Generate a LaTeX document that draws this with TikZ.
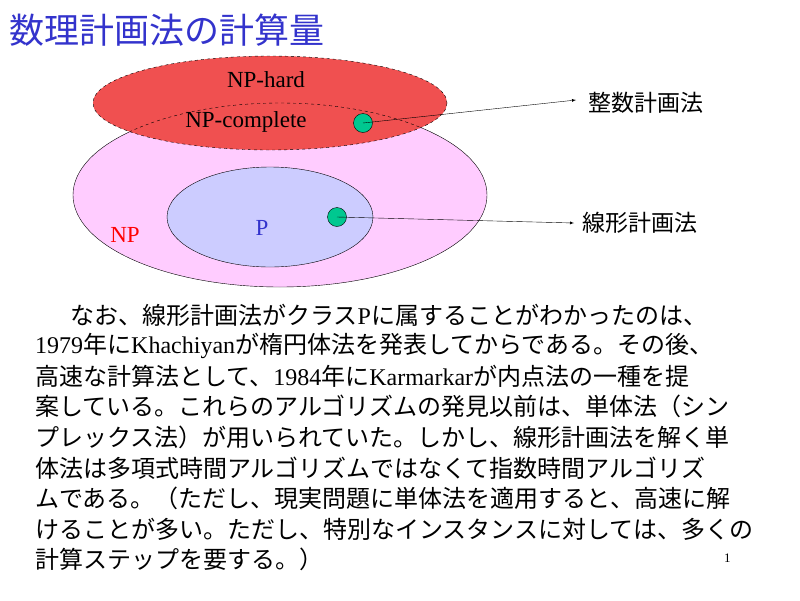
\documentclass[tikz,border=0pt]{standalone}
\usepackage{fontspec}
\setmainfont{Liberation Serif}
\newfontfamily\jp{Noto Sans CJK JP}
\definecolor{npink}{HTML}{FFCCFF}
\definecolor{pblue}{HTML}{CCCCFF}
\definecolor{hred}{HTML}{F05050}
\definecolor{dotg}{HTML}{00C890}
\definecolor{ttl}{HTML}{3333CC}
\tikzset{dotn/.style={circle,draw,fill=dotg,minimum size=19pt,inner sep=0pt},
 txt/.style={anchor=west,inner sep=0pt,font=\fontsize{24}{26}\selectfont}}
\begin{document}
\begin{tikzpicture}[x=1pt,y=-1pt]
\useasboundingbox (0,0) rectangle (800,600);
\node[anchor=west,inner sep=0pt,text=ttl,font=\jp\fontsize{35}{38}\selectfont] (title) at (9,30) {数理計画法の計算量};
\draw[fill=npink] (280,195) ellipse [x radius=207,y radius=92];
\draw[fill=pblue] (270,217) ellipse [x radius=103,y radius=50];
\draw[dashed,fill=hred] (270,103) ellipse [x radius=177,y radius=47];
\begin{scope}
\clip (270,103) ellipse [x radius=177,y radius=47];
\draw[dashed] (280,195) ellipse [x radius=207,y radius=92];
\end{scope}
\node[font=\fontsize{23}{26}\selectfont] (hard) at (266,80) {NP-hard};
\node[font=\fontsize{23}{26}\selectfont] (comp) at (246,122) {NP-complete};
\node[text=red,font=\fontsize{23}{26}\selectfont] (np) at (125,235) {NP};
\node[text=ttl,font=\fontsize{23}{26}\selectfont] (p) at (262,228) {P};
\node[dotn] (d1) at (363,123) {};
\node[dotn] (d2) at (337,217) {};
\node[anchor=west,inner sep=0pt,font=\jp\fontsize{23}{26}\selectfont] (ip) at (588,103) {整数計画法};
\node[anchor=west,inner sep=0pt,font=\jp\fontsize{23}{26}\selectfont] (lp) at (582,223) {線形計画法};
\coordinate (a1) at (576,100);
\coordinate (a2) at (574,223);
\draw[-latex] (d1.center) -- (a1);
\draw[-latex] (d2.center) -- (a2);
\node[txt] (l1) at (70,315) {\jp なお、線形計画法がクラス\rmfamily P\jp に属することがわかったのは、};
\node[txt] (l2) at (35,345.6) {1979\jp 年に\rmfamily Khachiyan\jp が楕円体法を発表してからである。その後、};
\node[txt] (l3) at (35,376.2) {\jp 高速な計算法として、\rmfamily 1984\jp 年に\rmfamily Karmarkar\jp が内点法の一種を提};
\node[txt] (l4) at (35,406.8) {\jp 案している。これらのアルゴリズムの発見以前は、単体法（シン};
\node[txt] (l5) at (35,437.4) {\jp プレックス法）が用いられていた。しかし、線形計画法を解く単};
\node[txt] (l6) at (35,468) {\jp 体法は多項式時間アルゴリズムではなくて指数時間アルゴリズ};
\node[txt] (l7) at (35,498.6) {\jp ムである。（ただし、現実問題に単体法を適用すると、高速に解};
\node[txt] (l8) at (35,529.2) {\jp けることが多い。ただし、特別なインスタンスに対しては、多くの};
\node[txt] (l9) at (35,559.8) {\jp 計算ステップを要する。）};
\node[anchor=west,inner sep=0pt,font=\fontsize{13}{15}\selectfont] (pg) at (724,558) {1};
\end{tikzpicture}
\end{document}
